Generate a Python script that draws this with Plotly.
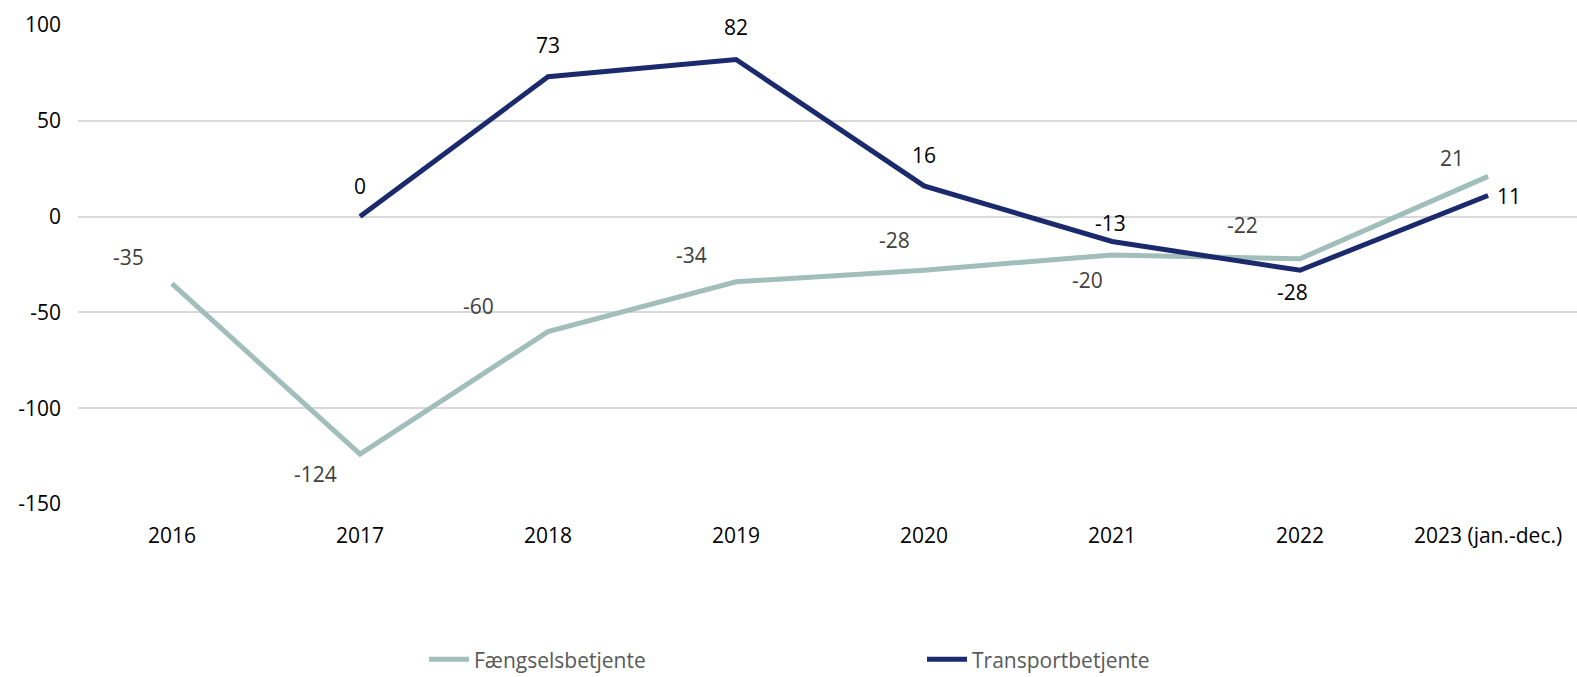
import plotly.graph_objects as go

categories = ["2016", "2017", "2018", "2019", "2020", "2021", "2022", "2023 (jan.-dec.)"]
faengsel = [-35, -124, -60, -34, -28, -20, -22, 21]
transport = [None, 0, 73, 82, 16, -13, -28, 11]
y_ticks = [-150, -100, -50, 0, 50, 100]

# label offsets (px): style only
f_off = [(-44, 27), (-45, -20), (-70, 26), (-45, 27), (-30, 30), (-25, -25), (-58, 34), (-36, 18)]
t_off = [None, (0, 31), (0, 32), (0, 32), (0, 31), (-2, 19), (-8, -22), (21, 0)]

FONT = "Open Sans"
C_F = "#A1BEBB"
C_T = "#1B2A6C"
FS = 21

fig = go.Figure()
fig.add_trace(go.Scatter(x=categories, y=faengsel, mode="lines", name="Fængselsbetjente",
                         line=dict(color=C_F, width=5)))
fig.add_trace(go.Scatter(x=categories, y=transport, mode="lines", name="Transportbetjente",
                         line=dict(color=C_T, width=5)))

anns = []
for i, (v, o) in enumerate(zip(faengsel, f_off)):
    anns.append(dict(x=i, y=v, xref="x", yref="y", text=str(v), showarrow=False,
                     xshift=o[0], yshift=o[1],
                     font=dict(family=FONT, size=FS, color="#404040")))
for i, (v, o) in enumerate(zip(transport, t_off)):
    if v is None:
        continue
    anns.append(dict(x=i, y=v, xref="x", yref="y", text=str(v), showarrow=False,
                     xshift=o[0], yshift=o[1],
                     font=dict(family=FONT, size=FS, color="#000000")))

fig.update_layout(
    width=1577, height=677,
    margin=dict(l=78, r=0, t=25, b=173, autoexpand=False),
    plot_bgcolor="white", paper_bgcolor="white",
    font=dict(family=FONT, size=FS, color="#000000"),
    annotations=anns,
    showlegend=True,
    legend=dict(orientation="h", x=(424 - 78) / 1499, xanchor="left",
                y=-0.325, yanchor="middle",
                entrywidth=443, font=dict(family=FONT, size=FS, color="#595959"),
                itemwidth=40),
    xaxis=dict(type="category", range=[-0.5, 7.473], showgrid=False, zeroline=False,
               showline=False, ticks="", tickfont=dict(family=FONT, size=FS, color="#000000"),
               ticklabelstandoff=17),
    yaxis=dict(range=[-150, 100], tickvals=y_ticks, ticktext=[str(t) for t in y_ticks],
               showgrid=True, gridcolor="#D9D9D9",
               gridwidth=1.5, zeroline=False, showline=False, ticks="",
               tickfont=dict(family=FONT, size=FS, color="#000000"), ticklabelstandoff=16),
)

fig.write_html("out.html", config={"displayModeBar": False},
               post_script="document.body.style.margin='0px';")
